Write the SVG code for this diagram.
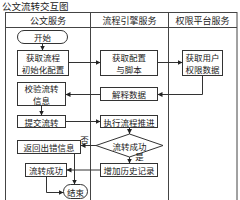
<svg xmlns="http://www.w3.org/2000/svg" width="240" height="200" viewBox="0 0 240 200">
<defs>
<marker id="arr" markerUnits="userSpaceOnUse" markerWidth="5" markerHeight="5" refX="5" refY="2.5" orient="auto">
<path d="M0,0 L5,2.5 L0,5 z" fill="#222"/>
</marker>
<style>
.frame{fill:none;stroke:#444;stroke-width:1}
.box{fill:#fff;stroke:#333;stroke-width:1}
.t{font-family:"Noto Sans CJK SC","Noto Sans CJK JP",sans-serif;font-size:8.5px;fill:#222;text-anchor:middle;dominant-baseline:central}
.h{font-family:"Noto Sans CJK SC","Noto Sans CJK JP",sans-serif;font-size:9px;fill:#222;text-anchor:middle;dominant-baseline:central}
.c{fill:none;stroke:#333;stroke-width:1;marker-end:url(#arr)}
</style>
</defs>
<rect width="240" height="200" fill="#fff"/>
<text x="2" y="5.5" style="font-family:'Noto Sans CJK SC',sans-serif;font-size:9.5px;fill:#222;dominant-baseline:central">公文流转交互图</text>
<g id="lanes">
<rect class="frame" x="5.5" y="12.5" width="231.5" height="190"/>
<line class="frame" x1="5.5" y1="27.5" x2="237" y2="27.5"/>
<line class="frame" x1="90.5" y1="12.5" x2="90.5" y2="202"/>
<line class="frame" x1="168.5" y1="12.5" x2="168.5" y2="202"/>
<text class="h" x="48" y="20">公文服务</text>
<text class="h" x="129.5" y="20">流程引擎服务</text>
<text class="h" x="202.5" y="20">权限平台服务</text>
</g>
<g id="start"><rect class="box" x="17.5" y="30.5" width="50" height="13" rx="6.5"/><text class="t" x="42.5" y="37">开始</text></g>
<g id="getFlow"><rect class="box" x="17.5" y="50.5" width="51" height="25"/><text class="t" x="43" y="57">获取流程</text><text class="t" x="43" y="69">初始化配置</text></g>
<g id="getConfig"><rect class="box" x="100.5" y="50.5" width="57" height="25"/><text class="t" x="129" y="57">获取配置</text><text class="t" x="129" y="69">与脚本</text></g>
<g id="getPerm"><rect class="box" x="182.5" y="50.5" width="40" height="25"/><text class="t" x="202.5" y="57">获取用户</text><text class="t" x="202.5" y="69">权限数据</text></g>
<g id="interpret"><rect class="box" x="100.5" y="87.5" width="57" height="13"/><text class="t" x="129" y="94">解释数据</text></g>
<g id="verify"><rect class="box" x="17.5" y="82.5" width="48" height="23"/><text class="t" x="41.5" y="88">校验流转</text><text class="t" x="41.5" y="100">信息</text></g>
<g id="submit"><rect class="box" x="17.5" y="115.5" width="48" height="12"/><text class="t" x="41.5" y="121.5">提交流转</text></g>
<g id="execute"><rect class="box" x="100.5" y="115.5" width="57" height="12"/><text class="t" x="129" y="121.5">执行流程推进</text></g>
<g id="decision"><polygon class="box" points="129.5,134 163,145.5 129.5,157 96,145.5"/><text class="t" x="129.5" y="145.5">流转成功</text></g>
<g id="error"><rect class="box" x="17.5" y="140.5" width="63" height="13"/><text class="t" x="49" y="147">返回出错信息</text></g>
<g id="history"><rect class="box" x="100.5" y="163.5" width="57" height="13"/><text class="t" x="129" y="170">增加历史记录</text></g>
<g id="success"><rect class="box" x="25.5" y="163.5" width="41" height="13"/><text class="t" x="46" y="170">流转成功</text></g>
<g id="end"><rect class="box" x="63.5" y="184.5" width="24" height="14" rx="7"/><text class="t" x="75.5" y="191.5">结束</text></g>
<g id="connectors">
<path class="c" d="M42.5,43.5 V50.5"/>
<path class="c" d="M68.5,62.5 H100.5"/>
<path class="c" d="M157.5,62.5 H182.5"/>
<path class="c" d="M202.5,75.5 V94.5 H157.5"/>
<path class="c" d="M100.5,94.5 H65.5"/>
<path class="c" d="M41.5,105.5 V115.5"/>
<path class="c" d="M65.5,121.5 H100.5"/>
<path class="c" d="M129.5,127.5 V134"/>
<path class="c" d="M96,145.5 H80.5"/>
<path class="c" d="M129.5,157 V163.5"/>
<path class="c" d="M100.5,170 H66.5"/>
<path class="c" d="M74.5,153.5 V184.5"/>
<path class="c" d="M46.5,176.5 V192.5 H63.5"/>
<text class="t" x="84.5" y="139">否</text>
<text class="t" x="139.5" y="156">是</text>
</g>
</svg>
